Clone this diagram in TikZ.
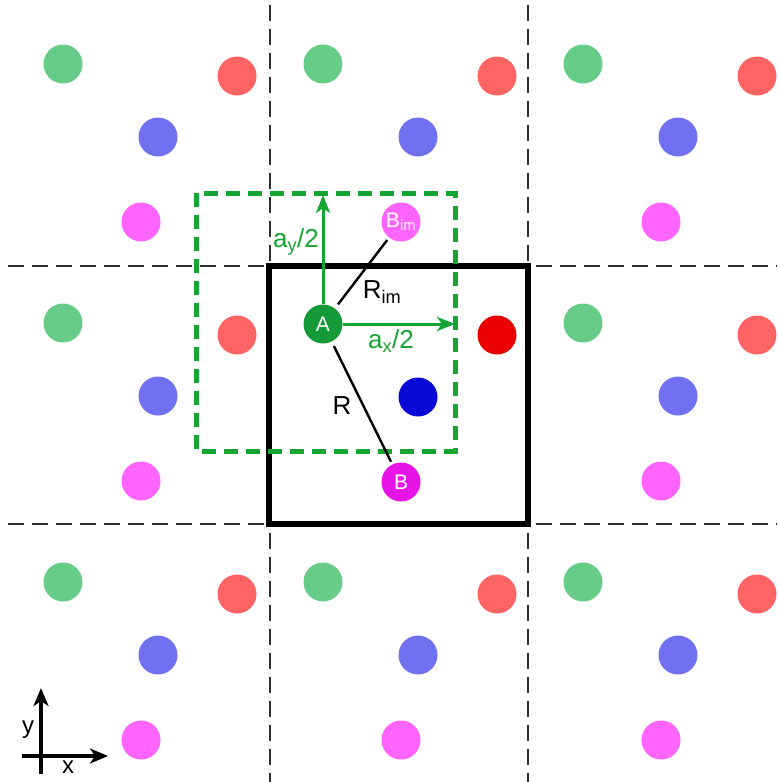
\documentclass[tikz,border=0pt]{standalone}
\usepackage{fontspec}
\setmainfont{Liberation Sans}
\usetikzlibrary{arrows.meta}
\definecolor{lgreen}{RGB}{102,204,136}
\definecolor{lred}{RGB}{255,100,100}
\definecolor{lblue}{RGB}{112,112,240}
\definecolor{lmag}{RGB}{255,100,255}
\definecolor{dgreen}{RGB}{20,155,55}
\definecolor{dred}{RGB}{235,0,0}
\definecolor{dblue}{RGB}{10,10,215}
\definecolor{dmag}{RGB}{230,20,230}
\definecolor{boxgreen}{RGB}{20,165,50}
\definecolor{gridgray}{RGB}{45,45,45}
\begin{document}
\begin{tikzpicture}[x=1pt,y=-1pt,
  atom/.style={circle,minimum size=39pt,inner sep=0pt,draw=none,text=white,
    font=\fontsize{21}{23}\selectfont},
  gridline/.style={draw=gridgray,line width=2.8pt,dash pattern=on 16pt off 8pt},
  cellbox/.style={draw=black,line width=6pt},
  halfbox/.style={draw=boxgreen,line width=5pt,dash pattern=on 14pt off 8pt},
  halfarrow/.style={draw=boxgreen,line width=3pt,-{Stealth[length=18pt,width=14pt,inset=5pt]}},
  distline/.style={draw=black,line width=2.4pt,shorten <=5pt,shorten >=3pt},
  lbl/.style={font=\fontsize{26}{29}\selectfont,inner sep=0pt},
  axisarrow/.style={draw=black,line width=3.5pt,-{Stealth[length=18pt,width=15pt,inset=5pt]}}
]
\useasboundingbox (0,0) rectangle (777,782);
% grid
\draw[gridline] (270,5) -- (270,782);
\draw[gridline] (528,5) -- (528,782);
\draw[gridline] (8,266) -- (777,266);
\draw[gridline] (8,524) -- (777,524);
% faded atoms
\foreach \i in {0,1,2}{
  \foreach \j in {0,1,2}{
    \ifnum\numexpr\i*10+\j\relax=11 \else
      \node[atom,fill=lgreen] (g\i\j) at ({63+260*\i},{64+259*\j}) {};
      \node[atom,fill=lred] (r\i\j) at ({237+260*\i},{76+259*\j}) {};
      \node[atom,fill=lblue] (b\i\j) at ({158+260*\i},{137+259*\j}) {};
      \ifnum\numexpr\i*10+\j\relax=10 \else
        \node[atom,fill=lmag] (m\i\j) at ({141+260*\i},{222+259*\j}) {};
      \fi
    \fi
  }
}
% boxes
\draw[cellbox] (269,266) rectangle (528,524);
\draw[halfbox] (196,193) rectangle (455,451);
% central cell atoms
\node[atom,fill=dgreen] (A) at (323,324) {A};
\node[atom,fill=dred] (rc) at (497,335) {};
\node[atom,fill=dblue] (bc) at (418,397) {};
\node[atom,fill=dmag] (B) at (401,482) {B};
\node[atom,fill=lmag] (Bim) at (401,222) {B\textsubscript{im}};
% arrows
\coordinate (ayend) at (323,195);
\coordinate (axend) at (455,324);
\draw[halfarrow] (A) -- (ayend);
\draw[halfarrow] (A) -- (axend);
\draw[distline] (A) -- (Bim);
\draw[distline] (A) -- (B);
% labels
\node[lbl,text=boxgreen] (ly) at (296,242) {a\textsubscript{y}/2};
\node[lbl,text=boxgreen] (lx) at (391,341) {a\textsubscript{x}/2};
\node[lbl] (lrim) at (382,292) {R\textsubscript{im}};
\node[lbl] (lr) at (342,406) {R};
% axes
\coordinate (oy) at (41,774);
\coordinate (ty) at (41,688);
\coordinate (ox) at (22,756);
\coordinate (tx) at (108,756);
\draw[axisarrow] (oy) -- (ty);
\draw[axisarrow] (ox) -- (tx);
\node[lbl,font=\fontsize{24}{26}\selectfont] (yl) at (28,730) {y};
\node[lbl,font=\fontsize{24}{26}\selectfont] (xl) at (68,767) {x};
\end{tikzpicture}
\end{document}
